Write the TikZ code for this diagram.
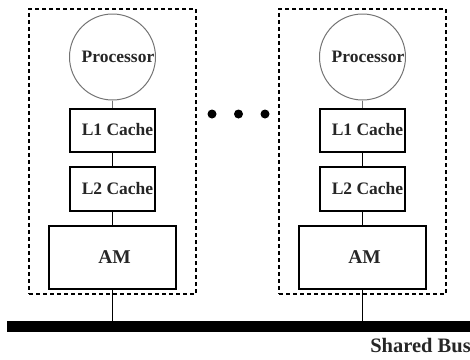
\documentclass[tikz,border=0pt]{standalone}
\usepackage{fontspec}
\setmainfont{Liberation Serif}
\begin{document}
\begin{tikzpicture}[x=1pt,y=-1pt,
  boxnode/.style={draw=black,line width=1.2pt,rectangle,inner sep=0pt},
  procnode/.style={draw=black!55,line width=1pt,circle,inner sep=0pt,minimum size=86pt},
  txt/.style={font=\fontsize{17.5}{20}\selectfont\bfseries,text=black!85,inner sep=0pt},
  amtxt/.style={font=\fontsize{19.5}{22}\selectfont\bfseries,text=black!85,inner sep=0pt},
  unitbox/.style={draw=black,line width=1.1pt,dash pattern=on 4pt off 3pt,rectangle,inner sep=0pt},
  link/.style={line width=1.1pt,draw=black},
  dotnode/.style={circle,fill=black,inner sep=0pt,minimum size=9pt}
]
\useasboundingbox (0,0) rectangle (470,359);
% bus
\node[fill=black,rectangle,inner sep=0pt,minimum width=463pt,minimum height=11pt] (bus) at (238.5,326.5) {};
\node[font=\fontsize{20.5}{22}\selectfont\bfseries,text=black!85,inner sep=0pt,anchor=base east] (bustxt) at (471,352) {Shared Bus};
\foreach \u/\dx in {a/0,b/250}{
  \begin{scope}[xshift=\dx pt]
  \node[unitbox,minimum width=167pt,minimum height=285pt] (unit\u) at (112.5,151.5) {};
  \node[procnode] (proc\u) at (112.5,57) {};
  \node[txt,anchor=base] (proct\u) at (118,62) {Processor};
  \node[boxnode,minimum width=85pt,minimum height=43pt] (lone\u) at (112.5,130.5) {};
  \node[txt,anchor=base] (lonet\u) at (117.5,135.5) {L1 Cache};
  \node[boxnode,minimum width=85pt,minimum height=44pt] (ltwo\u) at (112.5,189) {};
  \node[txt,anchor=base] (ltwot\u) at (117.5,194) {L2 Cache};
  \node[boxnode,minimum width=127pt,minimum height=63pt] (am\u) at (112.5,257.5) {};
  \node[amtxt,anchor=base] (amt\u) at (114.5,263.5) {AM};
  \end{scope}
  \draw[link,draw=black!55] (proc\u.south) -- (lone\u.north);
  \draw[link] (lone\u.south) -- (ltwo\u.north);
  \draw[link] (ltwo\u.south) -- (am\u.north);
  \draw[link] (am\u.south) -- (am\u.south |- bus.north);
}
\node[dotnode] (d1) at (212,114) {};
\node[dotnode] (d2) at (238.5,114) {};
\node[dotnode] (d3) at (265,114) {};
\end{tikzpicture}
\end{document}
